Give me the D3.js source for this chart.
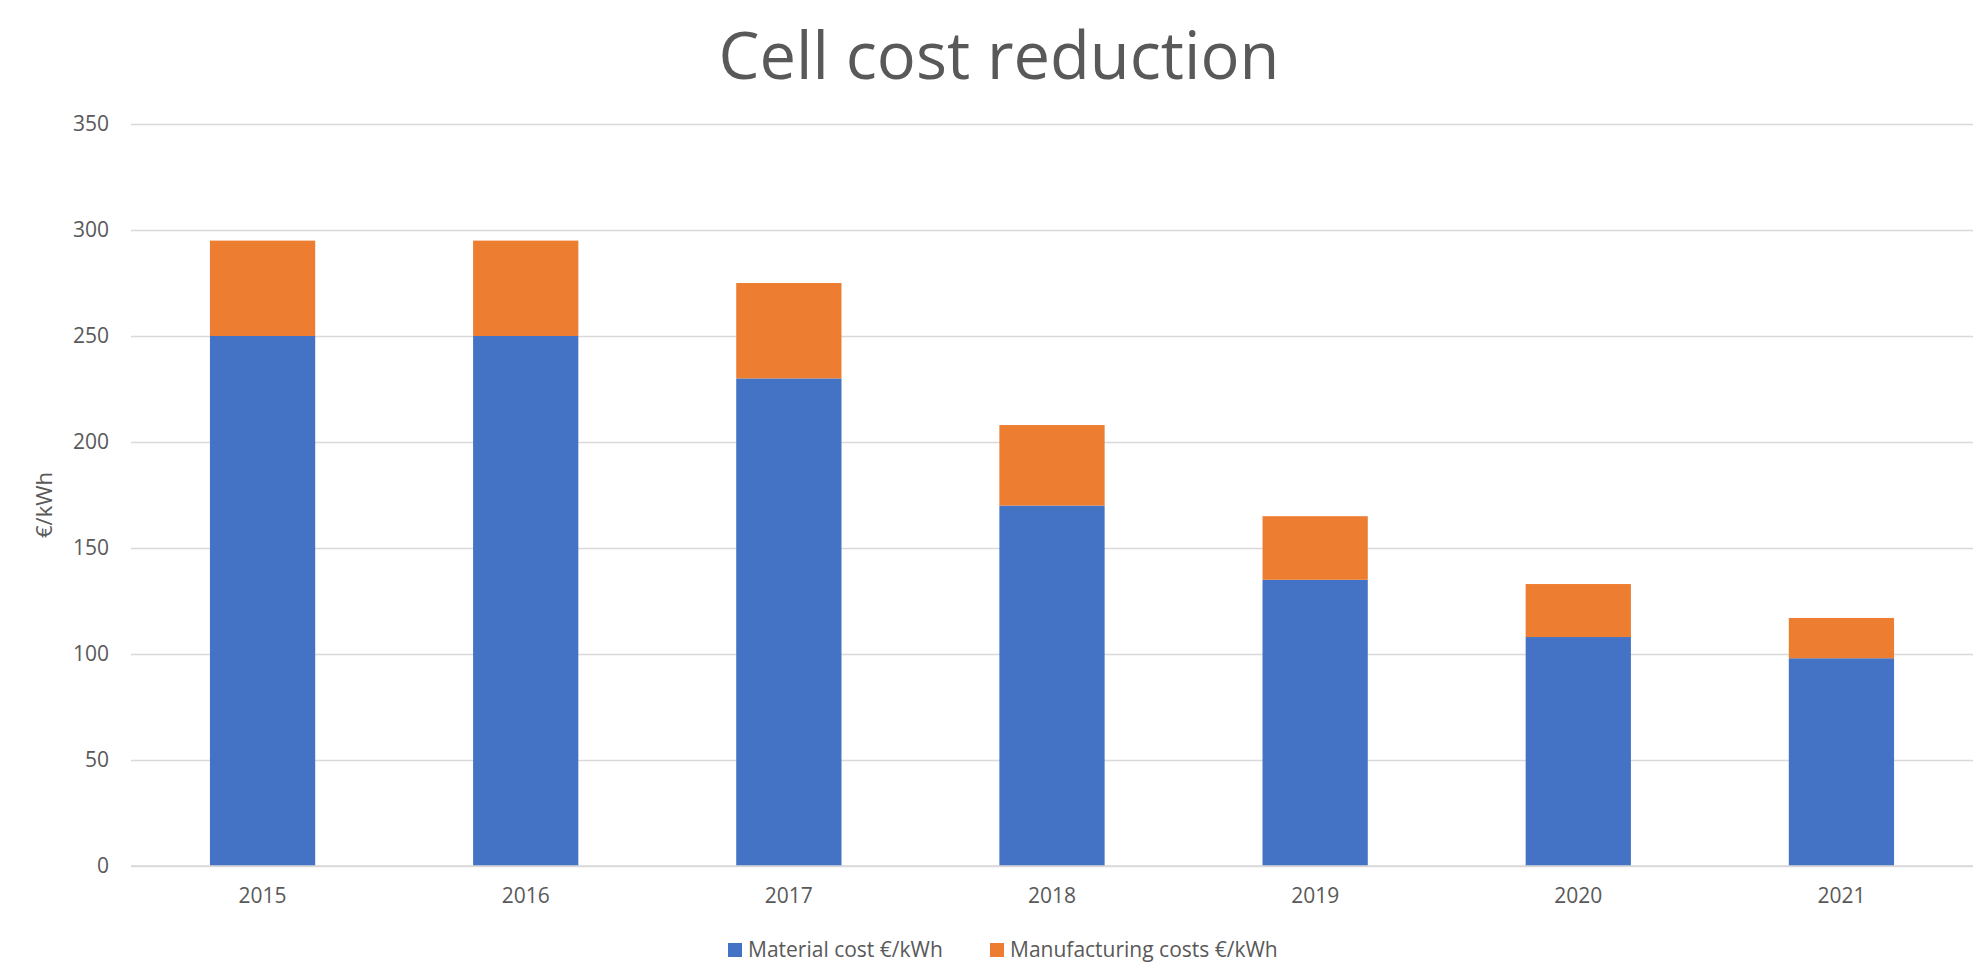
<!DOCTYPE html>
<html>
<head>
<meta charset="utf-8">
<script src="https://cdn.jsdelivr.net/npm/d3@7"></script>
<style>
  html, body { margin: 0; padding: 0; background: #ffffff; }
  svg { display: block; }
  text { font-family: "Open Sans", "Noto Sans", sans-serif; fill: #595959; }
</style>
</head>
<body>
<svg id="chart" width="1988" height="963"></svg>
<script>
// Cell cost data, €/kWh
const years = ["2015", "2016", "2017", "2018", "2019", "2020", "2021"];
const materialCost = [250, 250, 230, 170, 135, 108, 98];
const manufacturingCost = [45, 45, 45, 38, 30, 25, 19];
const yTicks = [0, 50, 100, 150, 200, 250, 300, 350];
const seriesNames = ["Material cost €/kWh", "Manufacturing costs €/kWh"];
const seriesColors = ["#4472C4", "#ED7D31"];

const W = 1988, H = 963;
const plot = { left: 131, right: 1973, top: 124, bottom: 866 };

const svg = d3.select("#chart");

const x = d3.scaleBand().domain(years).range([plot.left, plot.right]).padding(0);
const y = d3.scaleLinear().domain([0, 350]).range([plot.bottom, plot.top]);
const barW = x.bandwidth() * 0.4;

// Title
svg.append("text")
  .attr("x", 999).attr("y", 79)
  .attr("text-anchor", "middle")
  .style("font-size", "65px")
  .text("Cell cost reduction");

// Horizontal gridlines and y tick labels
const yAxis = d3.axisLeft(y).tickValues(yTicks).tickSize(-(plot.right - plot.left)).tickPadding(22);
const gy = svg.append("g").attr("transform", `translate(${plot.left},0)`).call(yAxis);
gy.select(".domain").remove();
gy.selectAll(".tick line").attr("stroke", "#d9d9d9").attr("stroke-width", 1.5);
gy.selectAll(".tick text")
  .attr("fill", "#595959")
  .style("font-size", "21px")
  .style("font-family", "'Open Sans', sans-serif");

// Stacked data
const rows = years.map((yr, i) => ({ year: yr, material: materialCost[i], manufacturing: manufacturingCost[i] }));
const stack = d3.stack().keys(["material", "manufacturing"]);
const layers = stack(rows);

svg.append("g").selectAll("g")
  .data(layers)
  .join("g")
  .attr("fill", (d, i) => seriesColors[i])
  .selectAll("rect")
  .data(d => d)
  .join("rect")
  .attr("x", d => x(d.data.year) + (x.bandwidth() - barW) / 2)
  .attr("width", barW)
  .attr("y", d => y(d[1]))
  .attr("height", d => y(d[0]) - y(d[1]));

// Baseline
svg.append("line")
  .attr("x1", plot.left).attr("x2", plot.right)
  .attr("y1", y(0)).attr("y2", y(0))
  .attr("stroke", "#d9d9d9").attr("stroke-width", 1.5);

// X axis labels
const xAxis = d3.axisBottom(x).tickSize(0).tickPadding(22);
const gx = svg.append("g").attr("transform", `translate(0,${plot.bottom})`).call(xAxis);
gx.select(".domain").remove();
gx.selectAll(".tick text")
  .attr("fill", "#595959")
  .style("font-size", "21px")
  .style("font-family", "'Open Sans', sans-serif");

// Y axis title
svg.append("text")
  .attr("transform", "translate(52,505) rotate(-90)")
  .attr("text-anchor", "middle")
  .style("font-size", "22px")
  .text("€/kWh");

// Legend
const legend = svg.append("g");
const legendX = [728, 990];
seriesNames.forEach((name, i) => {
  const g = legend.append("g").attr("transform", `translate(${legendX[i]},943)`);
  g.append("rect").attr("width", 14).attr("height", 14).attr("fill", seriesColors[i]);
  g.append("text").attr("x", 20).attr("y", 14).style("font-size", "21px").text(name);
});
</script>
</body>
</html>
